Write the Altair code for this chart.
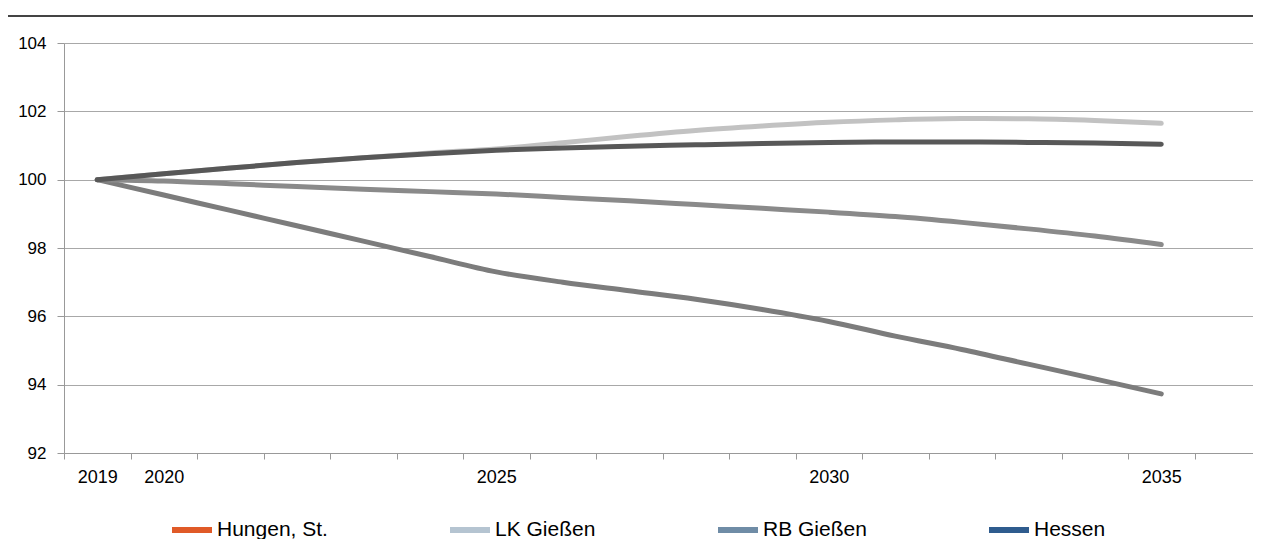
import altair as alt
import pandas as pd

years = list(range(2019, 2036))
series = ["Hungen, St.", "LK Gießen", "RB Gießen", "Hessen"]

hungen = [100.0, 99.55, 99.1, 98.65, 98.2, 97.75, 97.3, 97.0, 96.75, 96.5, 96.2,
          95.85, 95.42, 95.03, 94.6, 94.17, 93.73]
lk_giessen = [100.0, 100.17, 100.34, 100.5, 100.64, 100.78, 100.9, 101.08, 101.27, 101.44,
              101.57, 101.68, 101.75, 101.79, 101.78, 101.73, 101.65]
rb_giessen = [100.0, 99.96, 99.88, 99.8, 99.72, 99.65, 99.58, 99.48, 99.38, 99.27, 99.16,
              99.05, 98.92, 98.75, 98.56, 98.35, 98.1]
hessen = [100.0, 100.17, 100.34, 100.5, 100.64, 100.76, 100.86, 100.93, 100.98, 101.02,
          101.06, 101.09, 101.1, 101.1, 101.09, 101.07, 101.04]

line_colors = ["#7c7c7c", "#c2c2c2", "#8a8a8a", "#585858"]
legend_colors = ["#e05a28", "#b5c4d1", "#6f8ca6", "#2f5c8e"]

y_ticks = [92, 94, 96, 98, 100, 102, 104]
x_ticks = [2018.5 + k for k in range(18)]
labelled = [2019, 2020, 2025, 2030, 2035]

FONT = "Liberation Sans, Arial, sans-serif"

rows = []
for name, vals in zip(series, [hungen, lk_giessen, rb_giessen, hessen]):
    for yr, v in zip(years, vals):
        rows.append({"series": name, "year": yr, "value": v})
df = pd.DataFrame(rows)

label_expr = "indexof([" + ",".join(str(y - 0.5) for y in labelled) + "], datum.value) >= 0 ? format(datum.value + 0.5, 'd') : ''"

PLOT_W = 1189
BAND = 66.5
x_end = 2018.5 + PLOT_W / BAND

x_enc = alt.X(
    "year:Q",
    scale=alt.Scale(domain=[2018.5, x_end], nice=False, zero=False),
    axis=alt.Axis(values=x_ticks, labelExpr=label_expr, labelOffset=BAND / 2, tickSize=6,
                  grid=False, title=None, labelFontSize=18, labelPadding=9,
                  labelOverlap=False, labelFlush=False, labelBound=False),
)
y_enc = alt.Y(
    "value:Q",
    scale=alt.Scale(domain=[92, 104], nice=False, zero=False),
    axis=alt.Axis(values=y_ticks, title=None, tickSize=7, labelPadding=11, grid=True,
                  labelFontSize=17, format="d"),
)

base = alt.Chart(df)

lines = base.mark_line(strokeWidth=5, strokeCap="round", interpolate="monotone").encode(
    x=x_enc,
    y=y_enc,
    color=alt.Color("series:N", scale=alt.Scale(domain=series, range=line_colors), legend=None),
)

legend_layer = base.mark_line(opacity=0).encode(
    x="year:Q",
    y="value:Q",
    color=alt.Color(
        "series:N",
        scale=alt.Scale(domain=series, range=legend_colors),
        legend=alt.Legend(orient="none", legendX=105, legendY=464, direction="horizontal",
                          columns=4, columnPadding=110, symbolType="stroke", symbolSize=1600,
                          symbolStrokeWidth=6, symbolOpacity=1, labelFontSize=21,
                          labelOffset=2, title=None, labelFont=FONT, labelColor="#000",
                          padding=0, gridAlign="each", labelLimit=300),
    ),
)

top_rule = alt.Chart(pd.DataFrame({"a": [0]})).mark_rule(color="#444444", strokeWidth=2).encode(
    x=alt.value(-56), x2=alt.value(PLOT_W), y=alt.value(-27)
)

chart = alt.layer(lines, legend_layer, top_rule).resolve_scale(color="independent").properties(
    width=PLOT_W,
    height=410,
    autosize=alt.AutoSizeParams(type="none"),
    padding={"left": 56, "top": 35, "right": 0, "bottom": 86},
).configure_axis(
    domainColor="#999999", tickColor="#999999", gridColor="#a8a8a8",
    labelFont=FONT, labelColor="#000000",
).configure_view(stroke=None)

chart.save("out.html", embed_options={"renderer": "svg", "actions": False})
